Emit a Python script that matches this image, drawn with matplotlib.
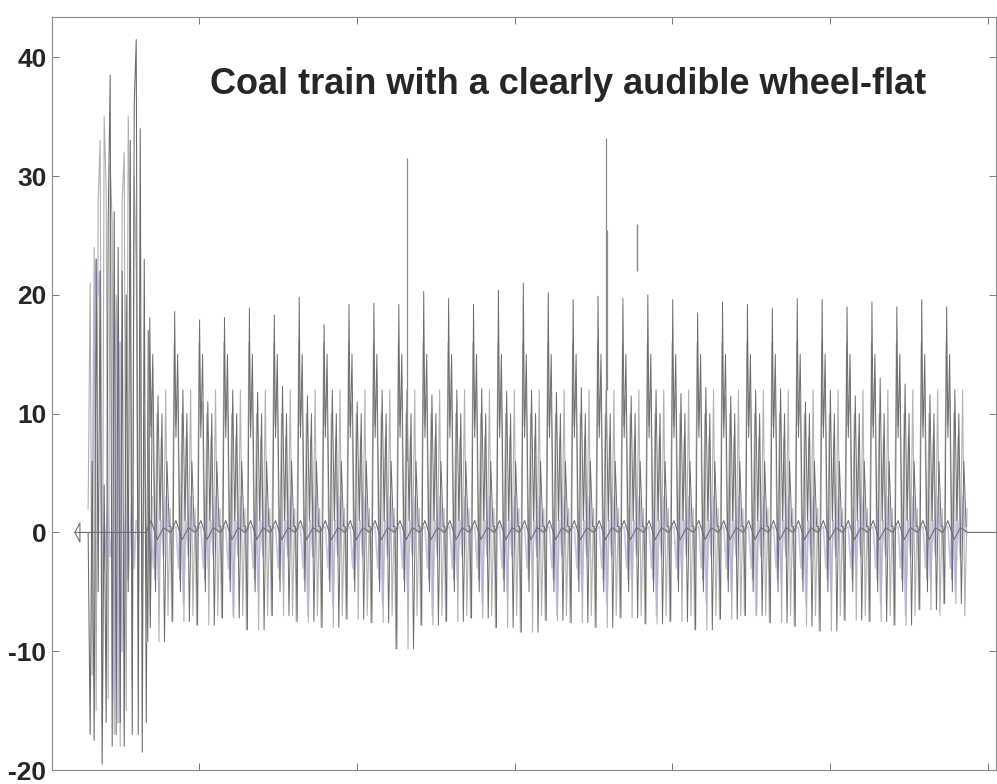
import numpy as np
import matplotlib.pyplot as plt

plt.rcParams["font.family"] = ["Liberation Sans", "DejaVu Sans"]
plt.rcParams["axes.unicode_minus"] = False

# --- locomotive passage (sampled trace, seconds / reading) ---
loco_start = 0.297
loco_step = 0.0127
loco_dark = [0, -17, 6, -17.5, 23, -5, 22, -19.5, 4, -16, 26, 38.5, -18, 27,
             -17, 24, -16, 22, -18, 20, -5, 33, -17, 36, 41.5, -17, 34, -18.5,
             23, -16, 17, -8, 12]
loco_light = [2, 21, -12, 24, -15, 28, 33, -16, 35, 29, -14, 31, 26, -17, 20,
              14, -18, 28, 32, -15, 35, 24, -13, 30, 22, -8, 18, -6, 10, -4,
              11, -7, 3]
loco_blue = [0, 19, 23, 20, 22, 1, -3, 0, 2, -2, 0, -14, 18, -16, 16, -10,
             -2, 2, -4, 0, 3, -3, 1]

# --- wagon axles, one entry per cycle ---
wagon_start = 0.664
wagon_period = 0.1578
crest = [18.1, 18.6, 17.9, 18.1, 18.9, 18.3, 19.8, 17.5, 19.2, 19.3, 19.2,
         20.3, 19.7, 19.2, 20.4, 21.0, 20.2, 19.6, 19.9, 19.7, 20.0, 19.6,
         18.5, 19.4, 19.2, 18.9, 19.7, 19.6, 19.0, 19.4, 19.0, 19.6, 19.0]
shoulder = [11.5, 12.0, 11.0, 12.0, 11.8, 12.3, 11.5, 12.0, 11.0, 12.0, 12.0,
            11.6, 12.0, 12.1, 11.9, 12.0, 11.8, 12.2, 12.0, 11.5, 12.0, 11.7,
            12.2, 11.5, 12.0, 12.1, 11.0, 12.0, 11.5, 13.0, 12.5, 11.6, 12.0]
trough = [-9.2, -7.5, -7.8, -7.2, -8.2, -7.0, -7.5, -8.0, -7.3, -7.6, -9.8,
          -7.8, -7.5, -7.2, -8.0, -8.4, -7.4, -7.6, -8.0, -7.2, -7.7, -7.5,
          -8.2, -7.3, -7.0, -7.6, -7.9, -8.3, -7.4, -7.5, -7.8, -6.5, -6.0]
blue_low = [-4, -6, -3, -7, -5, -4, -7, -6, -3, -6, -5, -7, -4, -6, -5, -3,
            -7, -5, -6, -4, -7, -3, -6, -5, -7, -4, -6, -5, -3, -6, -7, -4, -5]

# in-cycle levels of the two grey channels and the blue channel
dark_levels = [0.5, None, None, 8, 15, -5, None, 1, 10, None, 6, 0.5]
light_levels = [None, 16, 9, None, -4, 10, None, 8, -2, 12, -7, 2]
blue_levels = [0.5, -3, 2, None, 1, -2, 3, 0]
base_levels = [0, 1.0, -0.6, 0.4, 0]

# isolated impact spikes from the flat wheel
spike_t = [2.319, 3.579, 3.586]
spike_top = [31.5, 33.2, 25.5]
spike_bottom = [6, 8, 12]
flat_t = 3.776
flat_range = (22, 26)

dark_phase = [0.00, 0.07, 0.15, 0.20, 0.27, 0.38, 0.48, 0.56, 0.64, 0.74, 0.84, 0.93]
light_phase = [0.03, 0.13, 0.18, 0.27, 0.35, 0.44, 0.52, 0.61, 0.70, 0.79, 0.88, 0.97]
blue_phase = [0.20, 0.30, 0.40, 0.50, 0.60, 0.70, 0.80, 0.90]
base_phase = [0.0, 0.2, 0.45, 0.7, 1.0]


def wagon_trace(phase, levels, fill):
    xs, ys = [], []
    for i in range(len(crest)):
        t0 = wagon_start + wagon_period * i
        for ph, lv, f in zip(phase, levels, fill):
            xs.append(t0 + ph * wagon_period)
            ys.append(lv if lv is not None else f[i])
    return xs, ys


def pick(pattern):
    # which per-cycle array fills each empty slot of a level list
    return [{"c": crest, "s": shoulder, "t": trough, "b": blue_low}.get(k, None)
            for k in pattern]


fig = plt.figure(figsize=(9.97, 7.84), dpi=100)
ax = fig.add_axes([52 / 997, 14 / 784, 944 / 997, 753 / 784])

# zero line with the small diamond where the record starts
base_x = [0.213, 0.245, 0.245, 0.213, 0.25]
base_y = [0, 0.8, -0.8, 0, 0]
for i in range(len(crest)):
    t0 = wagon_start + wagon_period * i
    base_x += [t0 + p * wagon_period for p in base_phase]
    base_y += base_levels
base_x.append(6.1)
base_y.append(0)

lt = loco_start + loco_step * np.arange(len(loco_light))
ax.plot(lt, loco_light, color="#b0b0b0", lw=0.8)
lb = loco_start + 0.025 + loco_step * np.arange(len(loco_blue))
ax.plot(lb, loco_blue, color="#b4b4e2", lw=1.3, alpha=0.8)
ld = loco_start + loco_step * np.arange(len(loco_dark))
ax.plot(ld, loco_dark, color="#6a6a6a", lw=0.75)

lx, ly = wagon_trace(light_phase, light_levels,
                     pick(["t", None, None, "s", None, None, "t", None, None, None, None, None]))
ax.plot(lx, ly, color="#b3b3b3", lw=0.8)

bx, by = wagon_trace(blue_phase, blue_levels,
                     pick([None, None, None, "b", None, None, None, None]))
ax.plot(bx, by, color="#b4b4e2", lw=1.2, alpha=0.75)

dx, dy = wagon_trace(dark_phase, dark_levels,
                     pick([None, "t", "c", None, None, None, "s", None, None, "t", None, None]))
ax.plot(dx, dy, color="#6e6e6e", lw=0.7)

ax.plot(base_x, base_y, color="#707070", lw=0.8)

ax.vlines(spike_t, spike_bottom, spike_top, color="#8a8a8a", lw=0.9)
ax.vlines(flat_t, *flat_range, color="#8a8a8a", lw=1.0)

ax.set_xlim(0.068, 6.05)
ax.set_ylim(-20, 43.4)
ax.set_xticks([1, 2, 3, 4, 5, 6])
ax.set_xticklabels([])
ax.set_yticks([-20, -10, 0, 10, 20, 30, 40])
ax.tick_params(direction="in", top=True, right=True, length=5, width=0.7,
               color="#777777", labelsize=19, labelcolor="#262626", pad=4)
for lab in ax.get_yticklabels():
    lab.set_fontweight("bold")
for sp in ax.spines.values():
    sp.set_color("#8a8a8a")
    sp.set_linewidth(0.8)

ax.text(0.547, 0.91, "Coal train with a clearly audible wheel-flat",
        transform=ax.transAxes, ha="center", va="center",
        fontsize=26, fontweight="bold", color="#262626")

fig.savefig("out.png", dpi=100)
